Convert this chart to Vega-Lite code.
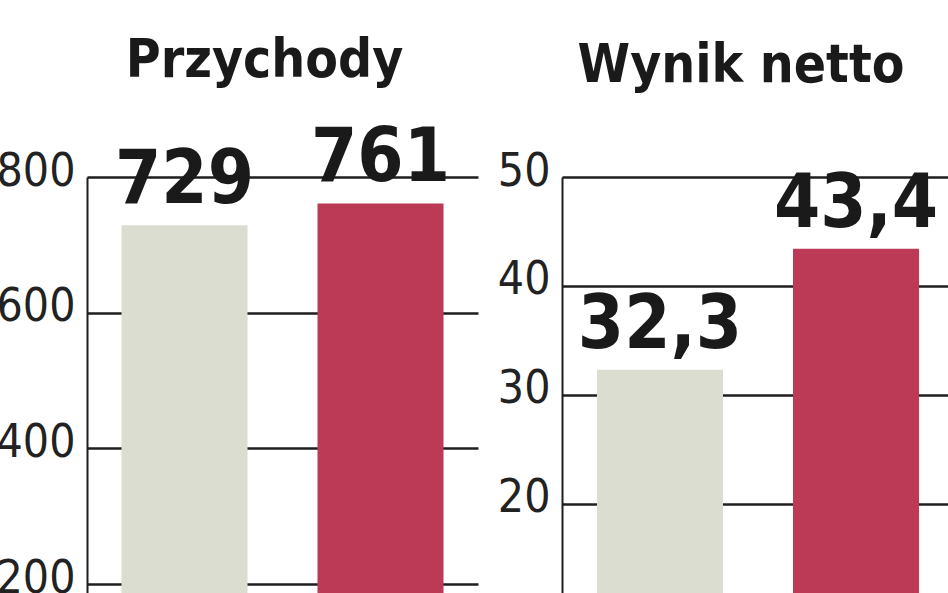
{
  "$schema": "https://vega.github.io/schema/vega-lite/v6.json",
  "background": "white",
  "padding": {"left": -4, "top": 35, "right": 0, "bottom": 0},
  "bounds": "flush",
  "spacing": 84,
  "config": {
    "view": {"stroke": null},
    "font": "DejaVu Sans Condensed",
    "title": {"font": "DejaVu Sans Condensed", "fontSize": 53, "fontWeight": "bold", "color": "#1a1a1a", "anchor": "middle"},
    "axisY": {
      "grid": true, "gridColor": "#1e1e1e", "gridWidth": 2.5, "gridOpacity": 1,
      "domain": true, "domainColor": "#1e1e1e", "domainWidth": 2,
      "ticks": false, "labelPadding": 12, "labelFont": "DejaVu Sans Condensed",
      "labelFontSize": 46, "labelColor": "#222222", "labelBaseline": "alphabetic",
      "labelOffset": 8, "title": null
    }
  },
  "datasets": {
    "przychody": [
      {"okres": "A", "wartosc": 729, "etykieta": "729"},
      {"okres": "B", "wartosc": 761, "etykieta": "761"}
    ],
    "wynik": [
      {"okres": "A", "wartosc": 32.3, "etykieta": "32,3"},
      {"okres": "B", "wartosc": 43.4, "etykieta": "43,4"}
    ]
  },
  "hconcat": [
    {
      "title": {"text": "Przychody", "offset": 34, "dx": -18},
      "width": 391,
      "height": 416,
      "data": {"name": "przychody"},
      "encoding": {
        "x": {"field": "okres", "type": "nominal", "axis": null,
              "scale": {"paddingInner": 0.357, "paddingOuter": 0.176}},
        "y": {"field": "wartosc", "type": "quantitative",
              "scale": {"domain": [187, 800], "nice": false, "zero": false},
              "axis": {"values": [200, 400, 600, 800]}}
      },
      "layer": [
        {
          "mark": {"type": "bar", "clip": true},
          "encoding": {
            "y2": {"datum": 0},
            "color": {"field": "okres", "type": "nominal", "legend": null,
                      "scale": {"domain": ["A", "B"], "range": ["#dcddd1", "#bc3a56"]}}
          }
        },
        {
          "mark": {"type": "text", "font": "DejaVu Sans Condensed", "fontWeight": "bold",
                   "fontSize": 74, "color": "#1a1a1a", "baseline": "alphabetic", "dy": -22},
          "encoding": {"text": {"field": "etykieta"}}
        }
      ]
    },
    {
      "title": {"text": "Wynik netto", "offset": 55, "dx": -14},
      "width": 386,
      "height": 416,
      "data": {"name": "wynik"},
      "encoding": {
        "x": {"field": "okres", "type": "nominal", "axis": null,
              "scale": {"paddingInner": 0.357, "paddingOuter": 0.163, "align": 0.547}},
        "y": {"field": "wartosc", "type": "quantitative",
              "scale": {"domain": [11.8, 50], "nice": false, "zero": false},
              "axis": {"values": [20, 30, 40, 50]}}
      },
      "layer": [
        {
          "mark": {"type": "bar", "clip": true},
          "encoding": {
            "y2": {"datum": 0},
            "color": {"field": "okres", "type": "nominal", "legend": null,
                      "scale": {"domain": ["A", "B"], "range": ["#dcddd1", "#bc3a56"]}}
          }
        },
        {
          "mark": {"type": "text", "font": "DejaVu Sans Condensed", "fontWeight": "bold",
                   "fontSize": 74, "color": "#1a1a1a", "baseline": "alphabetic", "dy": -22},
          "encoding": {"text": {"field": "etykieta"}}
        }
      ]
    }
  ]
}
